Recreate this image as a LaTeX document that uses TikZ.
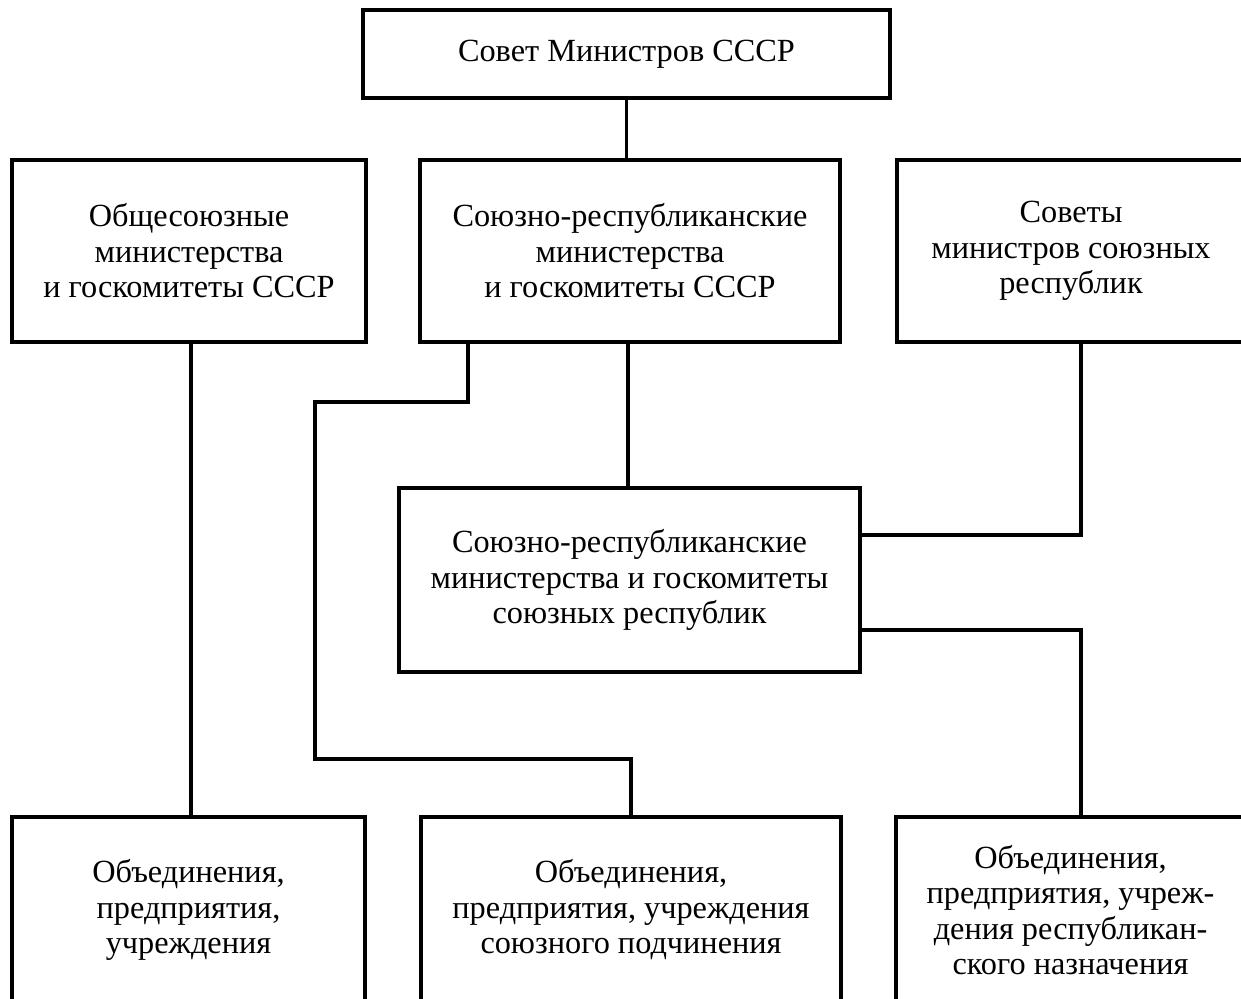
\documentclass[tikz,border=0pt]{standalone}
\usepackage{fontspec}
\setmainfont{Liberation Serif}
\begin{document}
\begin{tikzpicture}[x=1pt,y=-1pt,
  box/.style={draw, line width=3.3pt, inner sep=0pt, align=center,
    font=\fontsize{32.3}{35.5}\selectfont},
  link/.style={line width=3.3pt}]
\useasboundingbox (0,0) rectangle (1241,998);
\clip (0,0) rectangle (1241,998);
\node[box, minimum width=527pt, minimum height=88pt] (sovmin) at (626.5,54) {Совет Министров СССР};
\node[box, minimum width=354pt, minimum height=182pt] (allunion) at (189,251) {Общесоюзные\\министерства\\и госкомитеты СССР};
\node[box, minimum width=420pt, minimum height=182pt] (unionrep) at (630,251) {Союзно-республиканские\\министерства\\и госкомитеты СССР};
\node[box, minimum width=348pt, minimum height=182pt] (repcouncil) at (1071,251) {Советы\\министров союзных\\республик};
\node[box, minimum width=461pt, minimum height=184pt] (repmin) at (629.5,580) {Союзно-республиканские\\министерства и госкомитеты\\союзных республик};
\node[box, minimum width=353pt, minimum height=186pt] (ent1) at (188.5,910) {Объединения,\\предприятия,\\учреждения};
\node[box, minimum width=420pt, minimum height=186pt] (ent2) at (631,910) {Объединения,\\предприятия, учреждения\\союзного подчинения};
\node[box, minimum width=349pt, minimum height=186pt] (ent3) at (1070.5,910) {Объединения,\\предприятия, учреж-\\дения республикан-\\ского назначения};
\coordinate (a1) at (468,402);
\coordinate (a2) at (315,402);
\coordinate (a3) at (315,759);
\coordinate (a4) at (631,759);
\coordinate (b1) at (1081,535);
\coordinate (c1) at (1081,630);
\coordinate (d1) at (191,400);
\draw[link] (sovmin.south) -- (sovmin.south |- unionrep.north);
\draw[link] (allunion.south -| d1) -- (d1 |- ent1.north);
\draw[link] (unionrep.south -| a1) -- (a1) -- (a2) -- (a3) -- (a4) -- (ent2.north);
\draw[link] ([xshift=-2pt]unionrep.south) -- ([xshift=-2pt]unionrep.south |- repmin.north);
\draw[link] (repcouncil.south -| b1) -- (b1) -- (repmin.east |- b1);
\draw[link] (repmin.east |- c1) -- (c1) -- (c1 |- ent3.north);
\end{tikzpicture}
\end{document}
